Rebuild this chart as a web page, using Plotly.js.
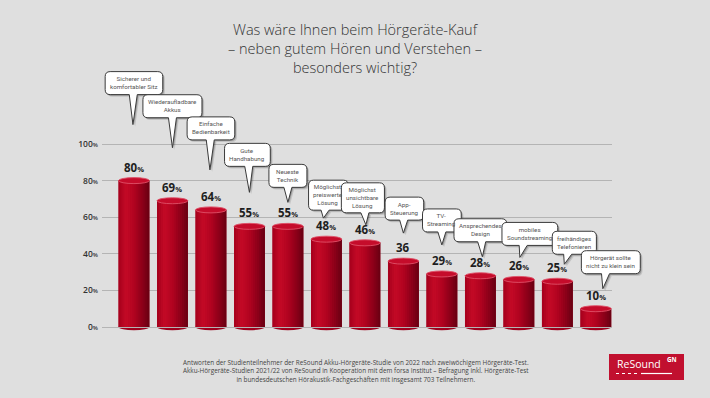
<!DOCTYPE html>
<html>
<head>
<meta charset="utf-8">
<script src="https://cdn.plot.ly/plotly-3.0.1.min.js"></script>
<style>html,body{margin:0;padding:0;background:#dfdfdf;}#chart{width:710px;height:398px;}</style>
</head>
<body>
<div id="chart"></div>
<script>
// ---------- DATA ----------
const categories = [
  "Sicherer und<br>komfortabler Sitz",
  "Wiederaufladbare<br>Akkus",
  "Einfache<br>Bedienbarkeit",
  "Gute<br>Handhabung",
  "Neueste<br>Technik",
  "Möglichst<br>preiswerte<br>Lösung",
  "Möglichst<br>unsichtbare<br>Lösung",
  "App-<br>Steuerung",
  "TV-<br>Streaming",
  "Ansprechendes<br>Design",
  "mobiles<br>Soundstreaming",
  "freihändiges<br>Telefonieren",
  "Hörgerät sollte<br>nicht zu klein sein"
];
const values = [80, 69, 64, 55, 55, 48, 46, 36, 29, 28, 26, 25, 10];
const valueLabels = ["80%", "69%", "64%", "55%", "55%", "48%", "46%", "36", "29%", "28%", "26%", "25%", "10%"];
const tickValues = [0, 20, 40, 60, 80, 100];
const tickLabels = ["0%", "20%", "40%", "60%", "80%", "100%"];
const titleText = "Was wäre Ihnen beim Hörgeräte-Kauf<br>– neben gutem Hören und Verstehen –<br>besonders wichtig?";
const footerText = "Antworten der Studienteilnehmer der ReSound Akku-Hörgeräte-Studie von 2022 nach zweiwöchigem Hörgeräte-Test.<br>Akku-Hörgeräte-Studien 2021/22 von ReSound in Kooperation mit dem forsa Institut – Befragung inkl. Hörgeräte-Test<br>in bundesdeutschen Hörakustik-Fachgeschäften mit insgesamt 703 Teilnehmern.";

// ---------- LAYOUT CONSTANTS (speech-bubble placement, in pixels) ----------
const tipLift = [56, 53, 40, 34, 24, 21, 18, 28, 29, 19, 22, 17, 20];
const tailLen = [30, 30, 30, 26, 15, 8, 12, 13, 13, 15, 12, 10, 15];
const boxDx   = [0, 0, 0, -2, 0, 2, -2, 1, 0, 0, 11, 17, 15];
const tipDx   = [-1, 0, -1, 0, 0, -3, 1, 0, 0, 2, 1, 7, 7];

const W = 710, H = 398;
const M = {l: 102, r: 60, t: 60, b: 63};
const plotW = W - M.l - M.r, plotH = H - M.t - M.b;
const xMin = -0.83, xMax = 12.42;
const mainW = 510;
const unitPx = mainW / (xMax - xMin);
const yRange = [-4.37, 145.9];
const pxX = px => (px - M.l) / plotW;
const pxY = py => (H - M.b - py) / plotH;

const FONT = "Open Sans, Noto Sans, sans-serif";
const BUBBLE_FONT = "Roboto";
const BUBBLE_SIZE = 6.2;

const ctx = document.createElement("canvas").getContext("2d");
ctx.font = `${BUBBLE_SIZE}px "${BUBBLE_FONT}"`;
let bubbleTextW = categories.map(c => Math.max(...c.split("<br>").map(s => ctx.measureText(s).width)));

// ---------- BAR STRIPS (cylinder shading) ----------
const barWidth = 0.8;
const nStrips = 16;
const stops = [[0, [165, 0, 28]], [0.24, [196, 10, 38]], [0.5, [178, 3, 32]], [0.8, [136, 0, 24]], [1, [104, 0, 18]]];
function shade(t) {
  for (let k = 0; k < stops.length - 1; k++) {
    const a = stops[k], b = stops[k + 1];
    if (t >= a[0] && t <= b[0]) {
      const f = (t - a[0]) / (b[0] - a[0]);
      const c = a[1].map((v, j) => Math.round(v + (b[1][j] - v) * f));
      return `rgb(${c[0]},${c[1]},${c[2]})`;
    }
  }
  return "rgb(104,0,18)";
}
const traces = [];
traces.push({type: "bar", x: categories, y: values, width: barWidth, offset: -barWidth / 2,
  marker: {color: "rgb(160,2,30)", line: {width: 0}}, hoverinfo: "skip", showlegend: false});
const sw = barWidth / nStrips;
for (let k = 0; k < nStrips; k++) {
  const last = k === nStrips - 1;
  traces.push({
    type: "bar", x: categories, y: values,
    width: last ? sw : sw * 1.9, offset: -barWidth / 2 + k * sw,
    marker: {color: shade((k + 0.5) / nStrips), line: {width: 0}},
    hoverinfo: "skip", showlegend: false, xaxis: "x", yaxis: "y"
  });
}
traces.push({type: "scatter", x: [], y: [], xaxis: "x2", yaxis: "y2", showlegend: false, hoverinfo: "skip"});

// ---------- SHAPES ----------
const halfBarPx = barWidth * unitPx / 2;

function bubbleGeom(i, ox, oy) {
  const nLines = categories[i].split("<br>").length;
  const w = Math.max(38, bubbleTextW[i] + 10);
  const h = nLines === 3 ? 30 : 23;
  const r = 5;
  const tipY = tipLift[i];
  const B = tipY + tailLen[i];
  const T = B + h;
  const cx = boxDx[i];
  const L = cx - w / 2, R = cx + w / 2;
  const tx = tipDx[i];
  let bx = (2 * tx + cx) / 3;
  bx = Math.min(Math.max(bx, L + r + 4), R - r - 4);
  const f = v => v.toFixed(2);
  const X = v => f(v + ox), Y = v => f(v + oy);
  const p = `M${X(L + r)},${Y(T)} H${X(R - r)} Q${X(R)},${Y(T)} ${X(R)},${Y(T - r)} V${Y(B + r)} Q${X(R)},${Y(B)} ${X(R - r)},${Y(B)} H${X(bx + 4)} L${X(tx)},${Y(tipY)} L${X(bx - 4)},${Y(B)} H${X(L + r)} Q${X(L)},${Y(B)} ${X(L)},${Y(B + r)} V${Y(T - r)} Q${X(L)},${Y(T)} ${X(L + r)},${Y(T)} Z`;
  return {path: p, cx: cx, cy: B + h / 2};
}

function buildShapes() {
  const shapes = [];
  categories.forEach((c, i) => {
    shapes.push({type: "circle", layer: "below", xref: "x", yref: "y", xsizemode: "pixel", ysizemode: "pixel",
      xanchor: c, yanchor: 0, x0: -halfBarPx, x1: halfBarPx, y0: -3.2, y1: 3.2,
      fillcolor: "#9e001d", line: {width: 0}});
    shapes.push({type: "circle", layer: "above", xref: "x", yref: "y", xsizemode: "pixel", ysizemode: "pixel",
      xanchor: c, yanchor: values[i], x0: -halfBarPx, x1: halfBarPx, y0: -3, y1: 3,
      fillcolor: "#c50c2b", line: {width: 0.9, color: "#df5068"}});
  });
  categories.forEach((c, i) => {
    const base = {type: "path", layer: "above", xref: "x2", yref: "y2", xsizemode: "pixel", ysizemode: "pixel",
      xanchor: i, yanchor: values[i]};
    shapes.push(Object.assign({}, base, {path: bubbleGeom(i, 2.2, -2.2).path, fillcolor: "rgba(0,0,0,0.12)", line: {width: 0}}));
    shapes.push(Object.assign({}, base, {path: bubbleGeom(i, 1.2, -1.2).path, fillcolor: "rgba(0,0,0,0.22)", line: {width: 0}}));
    shapes.push(Object.assign({}, base, {path: bubbleGeom(i, 0, 0).path, fillcolor: "#ffffff", line: {width: 1, color: "#3a3a3a"}}));
  });
  // logo
  shapes.push({type: "rect", xref: "paper", yref: "paper", x0: pxX(609), x1: pxX(684), y0: pxY(380), y1: pxY(354),
    fillcolor: "#c1102f", line: {width: 0}, layer: "above"});
  shapes.push({type: "line", xref: "paper", yref: "paper", x0: pxX(616), x1: pxX(640), y0: pxY(373.5), y1: pxY(373.5),
    line: {color: "#ffffff", width: 1.2, dash: "dot"}, layer: "above"});
  shapes.push({type: "line", xref: "paper", yref: "paper", x0: pxX(641), x1: pxX(672), y0: pxY(373.5), y1: pxY(373.5),
    line: {color: "#ffffff", width: 1.2}, layer: "above"});
  return shapes;
}

const annotations = [];
categories.forEach((c, i) => {
  const g = bubbleGeom(i, 0, 0);
  annotations.push({xref: "x2", yref: "y2", x: i, y: values[i], showarrow: false,
    xanchor: "center", yanchor: "middle", xshift: g.cx, yshift: g.cy,
    text: c, align: "center", font: {family: BUBBLE_FONT, size: BUBBLE_SIZE, color: "#555555"}});
});
categories.forEach((c, i) => {
  const lab = valueLabels[i];
  const num = lab.replace("%", "");
  const txt = lab.indexOf("%") >= 0 ? `${num}<span style="font-size:7.5px">%</span>` : num;
  annotations.push({xref: "x", yref: "y", x: c, y: values[i], showarrow: false,
    xanchor: "center", yanchor: "bottom", yshift: 4,
    text: txt, font: {family: FONT, size: 11.5, color: "#1e1e1e", weight: 700}});
});
annotations.push({xref: "paper", yref: "paper", x: pxX(356), y: pxY(371), xanchor: "center", yanchor: "middle",
  showarrow: false, align: "center", text: footerText,
  font: {family: FONT, size: 6.35, color: "#444444"}});
annotations.push({xref: "paper", yref: "paper", x: pxX(615), y: pxY(364), xanchor: "left", yanchor: "middle",
  showarrow: false, text: "ReSound", font: {family: FONT, size: 10.5, color: "#ffffff"}});
annotations.push({xref: "paper", yref: "paper", x: pxX(665), y: pxY(359), xanchor: "left", yanchor: "middle",
  showarrow: false, text: "GN", font: {family: FONT, size: 6.3, color: "#ffffff", weight: 700}});

const layout = {
  width: W, height: H,
  paper_bgcolor: "#dfdfdf", plot_bgcolor: "rgba(0,0,0,0)",
  margin: M,
  barmode: "overlay",
  showlegend: false,
  title: {text: titleText, xref: "container", x: 0.5, xanchor: "center", yref: "container", y: 1 - 35 / H, yanchor: "top",
    font: {family: FONT, size: 14.5, color: "#333333", weight: 300}},
  xaxis: {domain: [0, mainW / plotW], range: [xMin, xMax], type: "category", visible: false, fixedrange: true},
  yaxis: {domain: [0, 1], range: yRange, tickvals: tickValues,
    ticktext: tickLabels.map(s => s.replace("%", '<span style="font-size:6px">%</span>')),
    showgrid: true, gridcolor: "#b4b4b4", gridwidth: 1, zeroline: false, showline: false, ticks: "",
    ticklabelstandoff: 3,
    tickfont: {family: FONT, size: 8.5, color: "#333333", weight: 600}, fixedrange: true},
  xaxis2: {domain: [0, 1], anchor: "y2", type: "linear", range: [xMin, xMin + plotW / unitPx], visible: false, fixedrange: true},
  yaxis2: {domain: [0, 1], anchor: "x2", type: "linear", range: yRange, visible: false, fixedrange: true},
  shapes: buildShapes(),
  annotations: annotations
};

Plotly.newPlot("chart", traces, layout, {displayModeBar: false, staticPlot: true}).then(gd => {
  // size the bubbles to the text as actually rendered
  const nodes = gd.querySelectorAll(".annotation");
  const measured = bubbleTextW.slice();
  nodes.forEach(n => {
    const idx = +n.getAttribute("data-index");
    if (idx < categories.length) {
      const t = n.querySelector("text.annotation-text");
      if (t) { const bb = t.getBBox(); if (bb.width > 0) measured[idx] = bb.width; }
    }
  });
  bubbleTextW = measured;
  Plotly.relayout(gd, {shapes: buildShapes()});
});
</script>
</body>
</html>
